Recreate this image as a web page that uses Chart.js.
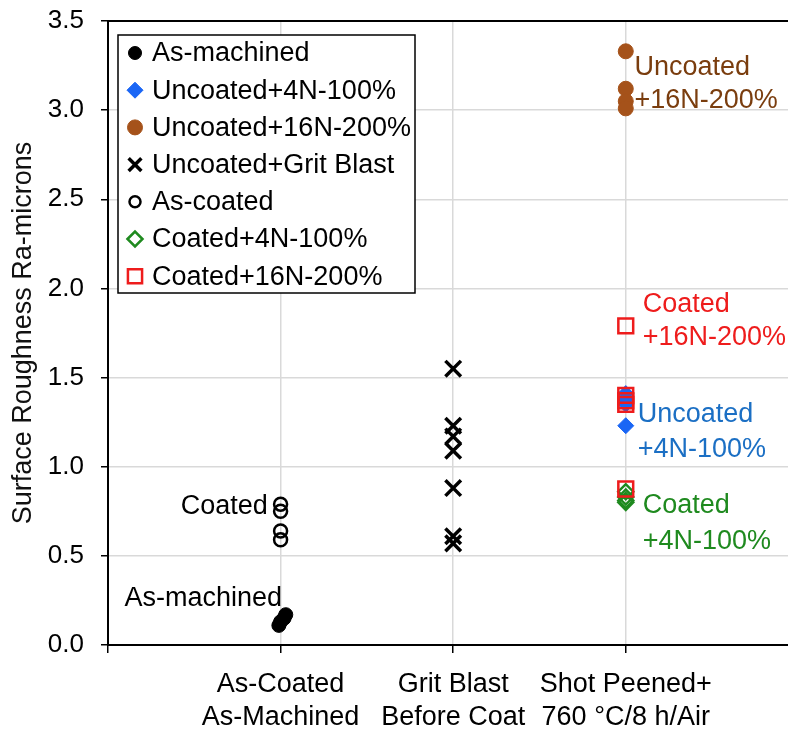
<!DOCTYPE html>
<html>
<head>
<meta charset="utf-8">
<script src="https://cdn.jsdelivr.net/npm/chart.js@4/dist/chart.umd.min.js"></script>
<style>
  html, body { margin: 0; padding: 0; background: #fff; }
  canvas { display: block; }
</style>
</head>
<body>
<canvas id="c" width="788" height="730"></canvas>
<script>
// Process categories along the x axis (positions 1, 2, 3)
const categories = [
  ['As-Coated', 'As-Machined'],
  ['Grit Blast', 'Before Coat'],
  ['Shot Peened+', '760 °C/8 h/Air']
];
const xTickValues = [0, 1, 2, 3];
const yTickValues = [0, 0.5, 1.0, 1.5, 2.0, 2.5, 3.0, 3.5];

// Surface roughness Ra (microns) per specimen
const asMachinedX = [1.03, 1.02, 1.00, 0.99];
const asMachinedY = [0.17, 0.15, 0.13, 0.11];
const uncoated4NX = [3, 3, 3, 3];
const uncoated4NY = [1.41, 1.38, 1.35, 1.23];
const uncoated16NX = [3, 3, 3, 3];
const uncoated16NY = [3.33, 3.12, 3.05, 3.01];
const gritBlastX = [2, 2, 2, 2, 2, 2, 2];
const gritBlastY = [1.55, 1.23, 1.17, 1.09, 0.88, 0.61, 0.57];
const asCoatedX = [1, 1, 1, 1];
const asCoatedY = [0.79, 0.75, 0.64, 0.59];
const coated4NX = [3, 3, 3, 3];
const coated4NY = [0.86, 0.83, 0.81, 0.80];
const coated16NX = [3, 3, 3, 3, 3];
const coated16NY = [1.79, 1.40, 1.37, 1.35, 0.875];

// Callout texts placed in data units
const calloutText = ['Coated', 'As-machined', 'Uncoated', '+16N-200%', 'Coated', '+16N-200%', 'Uncoated', '+4N-100%', 'Coated', '+4N-100%'];
const calloutX = [0.926, 1.008, 3.05, 3.05, 3.098, 3.098, 3.069, 3.069, 3.098, 3.098];
const calloutY = [0.775, 0.26, 3.24, 3.055, 1.91, 1.725, 1.29, 1.097, 0.78, 0.58];
const calloutAlign = ['right', 'right', 'left', 'left', 'left', 'left', 'left', 'left', 'left', 'left'];
const calloutColor = ['#000', '#000', '#7a3d0e', '#7a3d0e', '#ee1c1c', '#ee1c1c', '#1b6fc4', '#1b6fc4', '#1f8a1f', '#1f8a1f'];

const FONT = '"Liberation Sans", Arial, sans-serif';
const NONE = 'rgba(0,0,0,0)';

const pts = (xs, ys) => ys.map((y, i) => ({ x: xs[i], y }));

function series(label, xs, ys, style, radius, fill, stroke, bw, legendRadius, order) {
  return {
    label,
    data: pts(xs, ys),
    pointStyle: style,
    pointRadius: radius,
    pointHoverRadius: radius,
    pointBackgroundColor: fill,
    pointBorderColor: stroke,
    pointBorderWidth: bw,
    showLine: false,
    legendRadius,
    order
  };
}

const datasets = [
  series('As-machined', asMachinedX, asMachinedY, 'circle', 7, '#000', '#000', 1, 6.5, 7),
  series('Uncoated+4N-100%', uncoated4NX, uncoated4NY, 'rectRot', 8, '#1a66f5', '#1a66f5', 1, 8, 6),
  series('Uncoated+16N-200%', uncoated16NX, uncoated16NY, 'circle', 7.5, '#a5521a', '#a5521a', 1, 7.5, 5),
  series('Uncoated+Grit Blast', gritBlastX, gritBlastY, 'crossRot', 11, '#000', '#000', 3.5, 9, 4),
  series('As-coated', asCoatedX, asCoatedY, 'circle', 6.5, NONE, '#000', 2.5, 5.5, 3),
  series('Coated+4N-100%', coated4NX, coated4NY, 'rectRot', 7.5, NONE, '#1f8a1f', 2.5, 7.5, 2),
  series('Coated+16N-200%', coated16NX, coated16NY, 'rect', 10.5, NONE, '#ee1c1c', 2.5, 10, 1)
];

function marker(ctx, style, r, x, y, fill, stroke, bw) {
  ctx.save();
  ctx.fillStyle = fill;
  ctx.strokeStyle = stroke;
  ctx.lineWidth = bw;
  ctx.beginPath();
  if (style === 'circle') {
    ctx.arc(x, y, r, 0, Math.PI * 2);
  } else if (style === 'rectRot') {
    ctx.moveTo(x - r, y); ctx.lineTo(x, y - r); ctx.lineTo(x + r, y); ctx.lineTo(x, y + r); ctx.closePath();
  } else if (style === 'rect') {
    const s = r * Math.SQRT1_2;
    ctx.rect(x - s, y - s, 2 * s, 2 * s);
  } else if (style === 'crossRot') {
    const s = r * Math.SQRT1_2;
    ctx.moveTo(x - s, y - s); ctx.lineTo(x + s, y + s);
    ctx.moveTo(x + s, y - s); ctx.lineTo(x - s, y + s);
    ctx.stroke(); ctx.restore(); return;
  }
  ctx.fill();
  ctx.stroke();
  ctx.restore();
}

// Frame line along the top of the plot area
const topFrame = {
  id: 'topFrame',
  afterDraw(chart) {
    const { ctx, chartArea: a } = chart;
    ctx.save();
    ctx.strokeStyle = '#000';
    ctx.lineWidth = 2;
    ctx.beginPath();
    ctx.moveTo(a.left - 1, a.top);
    ctx.lineTo(a.right, a.top);
    ctx.stroke();
    ctx.restore();
  }
};

// Coloured callouts next to the point groups
const callouts = {
  id: 'callouts',
  afterDatasetsDraw(chart) {
    const { ctx, scales: { x, y } } = chart;
    ctx.save();
    ctx.font = '27px ' + FONT;
    ctx.textBaseline = 'middle';
    calloutText.forEach((t, i) => {
      ctx.fillStyle = calloutColor[i];
      ctx.textAlign = calloutAlign[i];
      ctx.fillText(t, x.getPixelForValue(calloutX[i]), y.getPixelForValue(calloutY[i]));
    });
    ctx.restore();
  }
};

// Boxed legend inside the upper-left of the plot
const insetLegend = {
  id: 'insetLegend',
  afterDraw(chart) {
    const { ctx, chartArea: a } = chart;
    const ds = chart.data.datasets;
    const x0 = a.left + 10, y0 = a.top + 14, w = 297, rowH = 37.2;
    const h = 258;
    ctx.save();
    ctx.fillStyle = '#fff';
    ctx.fillRect(x0, y0, w, h);
    ctx.strokeStyle = '#000';
    ctx.lineWidth = 1.5;
    ctx.strokeRect(x0, y0, w, h);
    ctx.font = '27px ' + FONT;
    ctx.textBaseline = 'middle';
    ctx.textAlign = 'left';
    ds.forEach((d, i) => {
      const cy = y0 + 18 + i * rowH;
      marker(ctx, d.pointStyle, d.legendRadius, x0 + 17, cy, d.pointBackgroundColor, d.pointBorderColor, d.pointBorderWidth);
      ctx.fillStyle = '#000';
      ctx.fillText(d.label, x0 + 34, cy + 1);
    });
    ctx.restore();
  }
};

new Chart(document.getElementById('c'), {
  type: 'scatter',
  data: { datasets },
  options: {
    responsive: false,
    animation: false,
    devicePixelRatio: 1,
    layout: { autoPadding: false, padding: { top: 21, right: 0, bottom: 0, left: 0 } },
    plugins: {
      legend: { display: false },
      tooltip: { enabled: false }
    },
    scales: {
      x: {
        type: 'linear',
        min: 0,
        max: 3.94,
        afterBuildTicks(s) { s.ticks = xTickValues.map(v => ({ value: v })); },
        afterFit(s) { s.height = 85; s.paddingLeft = 0; s.paddingRight = 0; },
        ticks: {
          autoSkip: false,
          maxRotation: 0,
          padding: 15,
          color: '#000',
          font: { family: FONT, size: 27, lineHeight: 1.22 },
          callback: v => (v >= 1 && v <= categories.length ? categories[v - 1] : '')
        },
        grid: { color: '#d9d9d9', lineWidth: 1.5, tickColor: '#000', tickLength: 8, tickWidth: 1.5 },
        border: { color: '#000', width: 2 }
      },
      y: {
        min: 0,
        max: 3.5,
        afterBuildTicks(s) { s.ticks = yTickValues.map(v => ({ value: v })); },
        afterFit(s) { s.width = 108; s.paddingTop = 0; s.paddingBottom = 0; },
        ticks: {
          padding: 17,
          color: '#000',
          font: { family: FONT, size: 26 },
          callback: v => Number(v).toFixed(1)
        },
        grid: { color: '#d9d9d9', lineWidth: 1.5, tickColor: '#000', tickLength: 7, tickWidth: 1.5 },
        border: { color: '#000', width: 2 },
        title: {
          display: true,
          text: 'Surface Roughness Ra-microns',
          color: '#111',
          font: { family: FONT, size: 27 },
          padding: { top: 7, bottom: 0 }
        }
      }
    }
  },
  plugins: [topFrame, callouts, insetLegend]
});
</script>
</body>
</html>
